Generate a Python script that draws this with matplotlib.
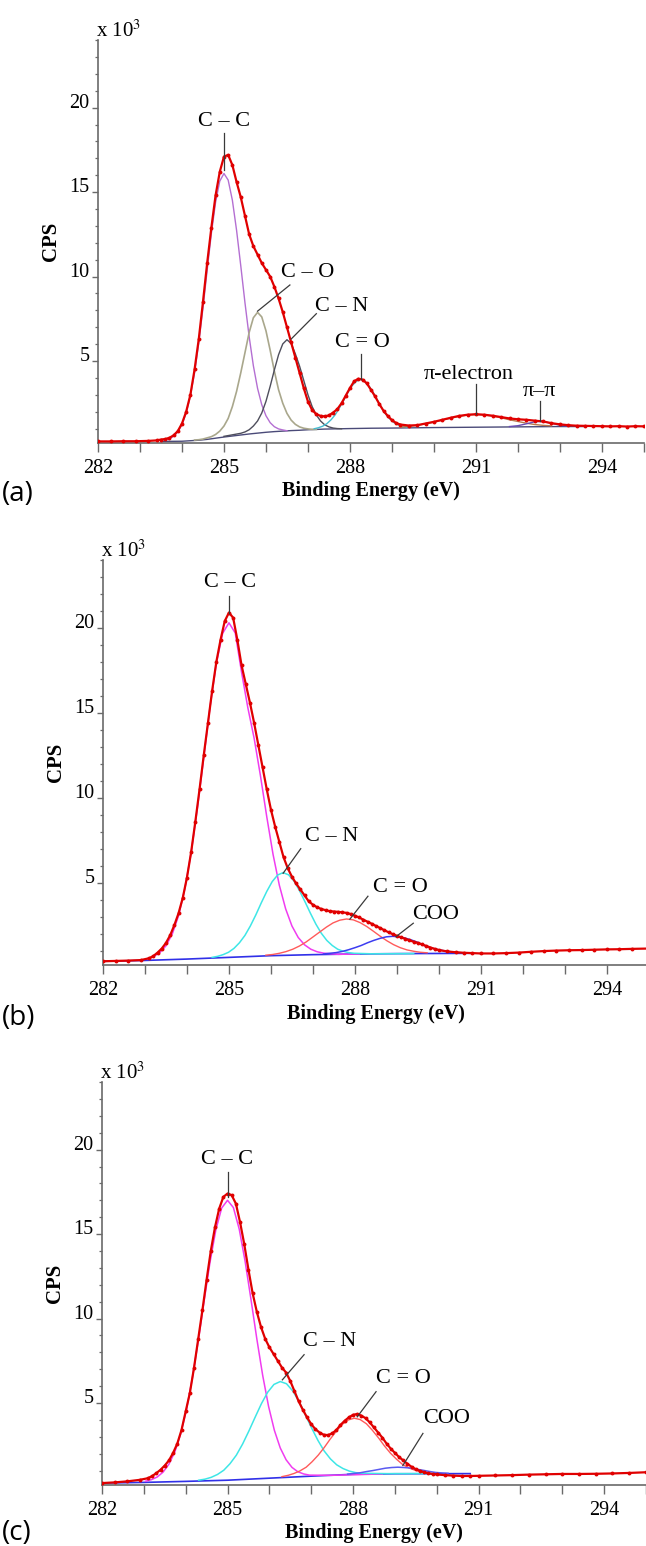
import matplotlib
matplotlib.use('Agg')
import matplotlib.pyplot as plt
from matplotlib.ticker import MultipleLocator, FixedLocator

plt.rcParams['font.family'] = ['Liberation Serif', 'DejaVu Serif']
plt.rcParams['mathtext.fontset'] = 'stix'

# ---------------- panel (a) : values in 10^3 CPS ----------------
a_E = [282.0, 282.3, 282.6, 282.9, 283.2, 283.4, 283.5,
       283.6, 283.7, 283.8, 283.9, 284.0, 284.1, 284.2, 284.3, 284.4, 284.5,
       284.6, 284.7, 284.8, 284.9, 285.0, 285.1, 285.2, 285.3, 285.4, 285.5,
       285.6, 285.7, 285.8, 285.9, 286.0, 286.1, 286.2, 286.3, 286.4, 286.5,
       286.6, 286.7, 286.8, 286.9, 287.0, 287.1, 287.2, 287.3, 287.4, 287.5,
       287.6, 287.7, 287.8, 287.9, 288.0, 288.1, 288.2, 288.3, 288.4, 288.5,
       288.6, 288.7, 288.8, 288.9, 289.0, 289.1, 289.2,
       289.4, 289.6, 289.8, 290.0, 290.2, 290.4, 290.6, 290.8, 291.0, 291.2,
       291.4, 291.6, 291.8, 292.0, 292.2, 292.4, 292.6, 292.8, 293.0, 293.2,
       293.4, 293.6, 293.8, 294.0, 294.2, 294.4, 294.6, 294.8, 295.0]
a_cps = [0.24, 0.24, 0.25, 0.25, 0.27, 0.3, 0.35,
         0.38, 0.45, 0.6, 0.85, 1.3, 2.0, 3.0, 4.5, 6.3, 8.5,
         10.8, 12.9, 14.8, 16.2, 17.1, 17.2, 16.6, 15.6, 14.7, 13.6,
         12.5, 11.8, 11.3, 10.8, 10.4, 10.0, 9.4, 8.7, 7.9, 7.0,
         6.1, 5.2, 4.3, 3.4, 2.6, 2.1, 1.85, 1.75, 1.72, 1.78,
         1.95, 2.15, 2.5, 2.95, 3.4, 3.8, 3.95, 3.9, 3.68, 3.3,
         2.9, 2.45, 2.05, 1.75, 1.5, 1.33, 1.24,
         1.18, 1.2, 1.3, 1.4, 1.52, 1.64, 1.75, 1.82, 1.85, 1.82,
         1.76, 1.68, 1.6, 1.55, 1.52, 1.47, 1.42, 1.32, 1.25, 1.2,
         1.17, 1.16, 1.15, 1.14, 1.13, 1.14, 1.12, 1.14, 1.13]

a_cc_E = [283.6, 283.7, 283.8, 283.9, 284.0, 284.1, 284.2, 284.3, 284.4, 284.5,
          284.6, 284.7, 284.8, 284.9, 285.0, 285.1, 285.2, 285.3, 285.4, 285.5,
          285.6, 285.7, 285.8, 285.9, 286.0, 286.1, 286.2, 286.3, 286.4, 286.5]
a_cc = [0.32, 0.39, 0.54, 0.8, 1.23, 1.92, 2.93, 4.31, 6.07, 8.13,
        10.38, 12.55, 14.39, 15.65, 16.1, 15.71, 14.52, 12.74, 10.64, 8.45,
        6.44, 4.72, 3.38, 2.41, 1.76, 1.35, 1.11, 0.98, 0.92, 0.87]

a_co_E = [284.3, 284.4, 284.5, 284.6, 284.7, 284.8, 284.9, 285.0, 285.1, 285.2,
          285.3, 285.4, 285.5, 285.6, 285.7, 285.8, 285.9, 286.0, 286.1, 286.2,
          286.3, 286.4, 286.5, 286.6, 286.7, 286.8, 286.9, 287.0, 287.1, 287.2]
a_co = [0.32, 0.34, 0.38, 0.45, 0.52, 0.65, 0.85, 1.15, 1.6, 2.3,
        3.2, 4.3, 5.49, 6.69, 7.56, 7.88, 7.61, 6.79, 5.64, 4.4,
        3.3, 2.5, 1.9, 1.5, 1.25, 1.1, 1.02, 0.98, 0.95, 0.95]

a_cn_E = [285.0, 285.2, 285.4, 285.5, 285.6, 285.7, 285.8, 285.9, 286.0, 286.1,
          286.2, 286.3, 286.4, 286.5, 286.6, 286.7, 286.8, 286.9, 287.0, 287.1,
          287.2, 287.3, 287.4, 287.5, 287.6, 287.7, 287.8]
a_cn = [0.54, 0.63, 0.72, 0.8, 0.93, 1.15, 1.45, 1.92, 2.61, 3.5,
        4.47, 5.37, 6.01, 6.26, 6.04, 5.42, 4.7, 3.85, 3.0, 2.3,
        1.8, 1.45, 1.22, 1.1, 1.03, 1.0, 0.99]

a_cdo_E = [287.15, 287.25, 287.35, 287.45, 287.55, 287.65, 287.75, 287.85,
           287.95, 288.05, 288.15, 288.25, 288.35, 288.45, 288.55, 288.65,
           288.75, 288.85, 288.95, 289.05, 289.15, 289.25, 289.35]
a_cdo = [0.99, 1.05, 1.14, 1.29, 1.52, 1.82, 2.22, 2.67,
         3.13, 3.53, 3.8, 3.91, 3.81, 3.54, 3.15, 2.7,
         2.25, 1.86, 1.57, 1.35, 1.21, 1.14, 1.09]

a_pie_E = [289.2, 289.4, 289.6, 289.8, 290.0, 290.2, 290.4, 290.6, 290.8, 291.0,
           291.2, 291.4, 291.6, 291.8, 292.0, 292.2, 292.4, 292.6, 292.8]
a_pie = [1.09, 1.13, 1.19, 1.28, 1.38, 1.5, 1.62, 1.72, 1.8, 1.83,
         1.8, 1.74, 1.64, 1.52, 1.42, 1.32, 1.24, 1.19, 1.16]

a_pipi_E = [291.8, 292.0, 292.2, 292.4, 292.5, 292.6, 292.8, 293.0, 293.2]
a_pipi = [1.12, 1.17, 1.28, 1.4, 1.42, 1.42, 1.31, 1.2, 1.14]

a_bg_E = [283.5, 284.0, 284.2, 284.4, 284.6, 284.8, 285.0, 285.2, 285.4, 285.6,
          285.8, 286.0, 286.2, 286.4, 286.6, 286.8, 287.0, 287.2, 287.4, 287.6,
          287.8, 288.0, 288.5, 289.0, 290.0, 291.0, 292.0, 293.0, 293.6]
a_bg = [0.24, 0.25, 0.28, 0.31, 0.36, 0.43, 0.5, 0.56, 0.62, 0.68,
        0.73, 0.78, 0.82, 0.85, 0.88, 0.9, 0.93, 0.95, 0.97, 0.98,
        0.99, 1.0, 1.02, 1.03, 1.06, 1.08, 1.1, 1.12, 1.12]

# ---------------- panel (b) ----------------
b_E = [282.0, 282.3, 282.6, 282.9, 283.1, 283.2, 283.3, 283.4, 283.5, 283.6,
       283.7, 283.8, 283.9, 284.0, 284.1, 284.2, 284.3, 284.4, 284.5, 284.6,
       284.7, 284.8, 284.9, 285.0, 285.1, 285.2, 285.3, 285.4, 285.5, 285.6,
       285.7, 285.8, 285.9, 286.0, 286.1, 286.2, 286.3, 286.4, 286.5, 286.6,
       286.7, 286.8, 286.9, 287.0, 287.1, 287.2, 287.3, 287.4, 287.5, 287.6,
       287.7, 287.8, 287.9, 288.0, 288.1, 288.2, 288.3, 288.4, 288.5, 288.6,
       288.7, 288.8, 288.9, 289.0, 289.1, 289.2, 289.3, 289.4, 289.5, 289.6,
       289.7, 289.8, 289.9, 290.0, 290.2, 290.4, 290.6, 290.8, 291.0, 291.3,
       291.6, 291.9, 292.2, 292.5, 292.8, 293.1, 293.4, 293.7, 294.0, 294.3,
       294.6, 295.0]
b_cps = [0.37, 0.39, 0.41, 0.44, 0.55, 0.68, 0.88, 1.12, 1.45, 1.9,
         2.5, 3.2, 4.1, 5.3, 6.8, 8.6, 10.5, 12.5, 14.4, 16.3,
         18.0, 19.3, 20.4, 20.9, 20.6, 19.3, 17.8, 16.7, 15.6, 14.4,
         13.1, 11.8, 10.5, 9.3, 8.3, 7.4, 6.5, 5.85, 5.35, 4.95,
         4.6, 4.25, 3.9, 3.7, 3.55, 3.45, 3.38, 3.32, 3.3, 3.28,
         3.25, 3.22, 3.15, 3.05, 2.95, 2.82, 2.7, 2.58, 2.45, 2.33,
         2.2, 2.08, 1.97, 1.87, 1.78, 1.7, 1.6, 1.52, 1.45, 1.36,
         1.27, 1.18, 1.1, 1.03, 0.95, 0.9, 0.87, 0.85, 0.83, 0.83,
         0.85, 0.88, 0.93, 0.97, 1.0, 1.02, 1.03, 1.05, 1.07, 1.08,
         1.1, 1.12]

b_cc_E = [283.05, 283.2, 283.35, 283.5, 283.65, 283.8, 283.95, 284.1, 284.25, 284.4,
          284.55, 284.7, 284.85, 285.0, 285.15, 285.3, 285.45, 285.6, 285.75, 285.9,
          286.05, 286.2, 286.35, 286.5, 286.65, 286.8, 286.95, 287.1, 287.25,
          287.6, 288.1]
b_cc = [0.51, 0.64, 0.87, 1.28, 1.97, 3.05, 4.64, 6.77, 9.41, 12.36,
        15.35, 17.91, 19.68, 20.3, 19.7, 17.4, 15.3, 13.5, 11.3, 8.89,
        6.67, 4.85, 3.46, 2.45, 1.77, 1.34, 1.08, 0.93, 0.85,
        0.78, 0.8]

b_cn_E = [284.6, 284.73, 284.86, 284.99, 285.12, 285.25, 285.38, 285.51, 285.64, 285.77,
          285.9, 286.03, 286.16, 286.29, 286.42, 286.55, 286.68, 286.81, 286.94, 287.07,
          287.2, 287.33, 287.46, 287.59, 287.72, 287.85, 287.98, 288.4, 289.4]
b_cn = [0.6, 0.66, 0.76, 0.9, 1.13, 1.46, 1.89, 2.45, 3.1, 3.81,
        4.48, 5.06, 5.45, 5.59, 5.46, 5.09, 4.53, 3.88, 3.2, 2.56,
        2.02, 1.6, 1.3, 1.08, 0.96, 0.88, 0.84, 0.81, 0.82]

b_cdo_E = [285.88, 286.04, 286.2, 286.36, 286.52, 286.68, 286.84, 287.0, 287.16, 287.32,
           287.48, 287.64, 287.8, 287.96, 288.12, 288.28, 288.44, 288.6, 288.76, 288.92,
           289.08, 289.24, 289.4, 289.56, 289.72]
b_cdo = [0.73, 0.77, 0.84, 0.94, 1.08, 1.27, 1.51, 1.8, 2.09, 2.38,
         2.63, 2.79, 2.86, 2.81, 2.65, 2.42, 2.14, 1.85, 1.58, 1.35,
         1.17, 1.04, 0.96, 0.9, 0.87]

b_coo_E = [287.25, 287.4, 287.55, 287.7, 287.85, 288.0, 288.15, 288.3, 288.45, 288.6,
           288.75, 288.9, 289.05, 289.2, 289.35, 289.5, 289.65, 289.8, 289.95, 290.1,
           290.25, 290.4, 290.55]
b_coo = [0.8, 0.84, 0.88, 0.95, 1.05, 1.17, 1.3, 1.46, 1.6, 1.72,
         1.81, 1.84, 1.81, 1.73, 1.62, 1.48, 1.3, 1.17, 1.07, 1.0,
         0.94, 0.9, 0.87]

b_bg_E = [282.0, 283.0, 284.0, 285.0, 286.0, 287.0, 288.0, 289.0, 290.0, 290.8]
b_bg = [0.37, 0.42, 0.5, 0.6, 0.7, 0.76, 0.8, 0.82, 0.83, 0.84]

# ---------------- panel (c) ----------------
c_E = [282.0, 282.3, 282.6, 282.9, 283.1, 283.2, 283.3, 283.4, 283.5, 283.6,
       283.7, 283.8, 283.9, 284.0, 284.1, 284.2, 284.3, 284.4, 284.5, 284.6,
       284.7, 284.8, 284.9, 285.0, 285.1, 285.2, 285.3, 285.4, 285.5, 285.6,
       285.7, 285.8, 285.9, 286.0, 286.1, 286.2, 286.3, 286.4, 286.5, 286.6,
       286.7, 286.8, 286.9, 287.0, 287.1, 287.2, 287.3, 287.4, 287.5, 287.6,
       287.7, 287.8, 287.9, 288.0, 288.1, 288.2, 288.3, 288.4, 288.5, 288.6,
       288.7, 288.8, 288.9, 289.0, 289.1, 289.2, 289.3, 289.4, 289.5, 289.6,
       289.7, 289.8, 289.9, 290.0, 290.2, 290.4, 290.6, 290.8, 291.0, 291.4,
       291.8, 292.2, 292.6, 293.0, 293.4, 293.8, 294.2, 294.6, 295.0]
c_cps = [0.26, 0.3, 0.36, 0.45, 0.55, 0.68, 0.85, 1.05, 1.3, 1.6,
         2.05, 2.6, 3.4, 4.5, 5.6, 7.1, 8.8, 10.5, 12.3, 14.0,
         15.4, 16.5, 17.2, 17.4, 17.3, 16.8, 15.7, 14.4, 12.9, 11.5,
         10.4, 9.5, 8.8, 8.3, 7.9, 7.5, 7.1, 6.8, 6.3, 5.7,
         5.1, 4.6, 4.15, 3.75, 3.45, 3.25, 3.12, 3.1, 3.2, 3.4,
         3.7, 3.95, 4.15, 4.3, 4.35, 4.25, 4.1, 3.85, 3.55, 3.25,
         2.95, 2.6, 2.3, 2.05, 1.8, 1.6, 1.4, 1.22, 1.08, 0.98,
         0.9, 0.84, 0.8, 0.77, 0.73, 0.7, 0.68, 0.68, 0.69, 0.71,
         0.73, 0.76, 0.78, 0.8, 0.8, 0.81, 0.83, 0.86, 0.9]

c_cc_E = [283.04, 283.18, 283.32, 283.46, 283.6, 283.74, 283.88, 284.02, 284.16, 284.3,
          284.44, 284.58, 284.72, 284.86, 285.0, 285.14, 285.28, 285.42, 285.56, 285.7,
          285.84, 285.98, 286.12, 286.26, 286.4, 286.54, 286.68, 286.82, 286.96,
          287.5, 288.7]
c_cc = [0.37, 0.46, 0.62, 0.91, 1.38, 2.1, 3.17, 4.62, 6.48, 8.67,
        11.03, 13.31, 15.24, 16.54, 17.0, 16.57, 15.29, 13.39, 11.14, 8.8,
        6.64, 4.81, 3.38, 2.34, 1.64, 1.19, 0.93, 0.8, 0.73,
        0.72, 0.8]

c_cn_E = [284.31, 284.46, 284.61, 284.76, 284.91, 285.06, 285.21, 285.36, 285.51, 285.66,
          285.81, 285.96, 286.11, 286.26, 286.41, 286.56, 286.71, 286.86, 287.01, 287.16,
          287.31, 287.46, 287.61, 287.76, 287.91, 288.06, 288.21, 288.8, 289.9]
c_cn = [0.43, 0.49, 0.6, 0.77, 1.02, 1.41, 1.91, 2.57, 3.34, 4.16,
        4.96, 5.64, 6.1, 6.27, 6.14, 5.71, 5.08, 4.3, 3.52, 2.79,
        2.16, 1.69, 1.34, 1.12, 0.97, 0.88, 0.84, 0.82, 0.82]

c_cdo_E = [286.3, 286.45, 286.59, 286.73, 286.88, 287.02, 287.17, 287.31, 287.45, 287.6,
           287.74, 287.89, 288.03, 288.17, 288.32, 288.46, 288.61, 288.75, 288.89, 289.04,
           289.18, 289.33, 289.47, 289.61, 289.76]
c_cdo = [0.64, 0.72, 0.83, 0.98, 1.2, 1.52, 1.92, 2.36, 2.85, 3.33,
         3.73, 4.0, 4.1, 4.02, 3.77, 3.39, 2.93, 2.46, 2.04, 1.67,
         1.37, 1.16, 1.03, 0.94, 0.88]

c_coo_E = [287.87, 288.02, 288.17, 288.32, 288.47, 288.62, 288.77, 288.92, 289.07, 289.22,
           289.37, 289.52, 289.67, 289.82, 289.97, 290.12, 290.27]
c_coo = [0.79, 0.83, 0.87, 0.94, 1.0, 1.07, 1.14, 1.18, 1.2, 1.18,
         1.15, 1.08, 1.02, 0.95, 0.89, 0.86, 0.84]

c_bg_E = [282.0, 283.0, 284.0, 285.0, 286.0, 287.0, 288.0, 289.0, 290.8]
c_bg = [0.26, 0.3, 0.36, 0.43, 0.55, 0.67, 0.78, 0.81, 0.82]

x_ticks = [282, 285, 288, 291, 294]
y_ticks = [5, 10, 15, 20]

RED = '#e00000'
AX_COLOR = '#6a6a6a'


def style_axis(ax):
    ax.set_xlim(282, 295)
    ax.set_ylim(0.15, 24)
    for s in ['top', 'right']:
        ax.spines[s].set_visible(False)
    for s in ['left', 'bottom']:
        ax.spines[s].set_color(AX_COLOR)
        ax.spines[s].set_linewidth(1.2)
    ax.xaxis.set_major_locator(FixedLocator(x_ticks))
    ax.xaxis.set_minor_locator(MultipleLocator(1))
    ax.yaxis.set_major_locator(FixedLocator(y_ticks))
    ax.yaxis.set_minor_locator(MultipleLocator(1))
    ax.tick_params(axis='x', which='both', direction='out', length=6.5,
                   width=1.0, color=AX_COLOR, pad=5, labelsize=14.5)
    ax.tick_params(axis='y', which='major', direction='out', length=4,
                   width=1.0, color=AX_COLOR, pad=2, labelsize=14.5)
    ax.tick_params(axis='y', which='minor', direction='out', length=2.5,
                   width=0.9, color=AX_COLOR)
    for lbl in ax.get_yticklabels():
        lbl.set_verticalalignment('baseline')
    ax.text(0.5, -0.12, 'Binding Energy (eV)', transform=ax.transAxes,
            ha='center', va='center', fontsize=14.5, fontweight='bold')
    ax.text(-0.086, 0.5, 'CPS', transform=ax.transAxes, rotation=90,
            ha='center', va='center', fontsize=15, fontweight='bold')
    ax.text(-0.003, 1.022, r'x 10$^3$', transform=ax.transAxes,
            ha='left', va='center', fontsize=15)


def draw_data(ax, E, y):
    ax.plot(E, y, color=RED, lw=1.6, zorder=5)
    ax.plot(E, y, 'o', color=RED, ms=2.8, mec='none', zorder=6)


def label(ax, text, pos, start, end):
    ax.plot([start[0], end[0]], [start[1], end[1]], color='#3a3a3a', lw=0.9, zorder=7)
    ax.text(pos[0], pos[1], text, ha='center', va='center', fontsize=16, zorder=8)


fig = plt.figure(figsize=(6.46, 15.46), dpi=100)

# (a)
ax = fig.add_axes([0.1517, 0.7135, 0.845, 0.2606])
style_axis(ax)
ax.plot(a_bg_E, a_bg, color='#4a4a78', lw=1.0, zorder=2)
ax.plot(a_cc_E, a_cc, color='#b46fd2', lw=1.0, zorder=3)
ax.plot(a_co_E, a_co, color='#a9a78c', lw=1.2, zorder=3)
ax.plot(a_cn_E, a_cn, color='#4e4e5c', lw=1.0, zorder=3)
ax.plot(a_cdo_E, a_cdo, color='#45bcd0', lw=1.0, zorder=3)
ax.plot(a_pie_E, a_pie, color='#b8784c', lw=1.0, zorder=3)
ax.plot(a_pipi_E, a_pipi, color='#6a4cb4', lw=1.0, zorder=3)
draw_data(ax, a_E, a_cps)
label(ax, 'C – C', (285.0, 19.2), (285.0, 18.5), (285.0, 16.3))
label(ax, 'C – O', (287.0, 10.25), (286.57, 9.5), (285.8, 7.95))
label(ax, 'C – N', (287.81, 8.2), (287.2, 7.8), (286.6, 6.3))
label(ax, 'C = O', (288.29, 6.1), (288.26, 5.4), (288.26, 3.95))
label(ax, 'π-electron', (290.83, 4.23), (291.0, 3.64), (291.0, 1.87))
label(ax, 'π–π', (292.52, 3.2), (292.52, 2.64), (292.52, 1.42))

# (b)
ax = fig.add_axes([0.1594, 0.3758, 0.845, 0.262])
style_axis(ax)
ax.plot(b_bg_E, b_bg, color='#3030e8', lw=1.2, zorder=2)
ax.plot(b_cc_E, b_cc, color='#f03cf0', lw=1.1, zorder=3)
ax.plot(b_cn_E, b_cn, color='#3ee6e6', lw=1.1, zorder=3)
ax.plot(b_cdo_E, b_cdo, color='#ff5a5a', lw=1.0, zorder=3)
ax.plot(b_coo_E, b_coo, color='#3c3cf0', lw=1.1, zorder=3)
draw_data(ax, b_E, b_cps)
label(ax, 'C – C', (285.02, 22.7), (285.0, 21.9), (285.0, 20.9))
label(ax, 'C – N', (287.44, 7.7), (286.71, 7.0), (286.29, 5.55))
label(ax, 'C = O', (289.09, 4.7), (288.31, 4.2), (287.88, 2.85))
label(ax, 'COO', (289.92, 3.1), (289.39, 2.61), (288.98, 1.82))

# (c)
ax = fig.add_axes([0.1579, 0.0395, 0.842, 0.2606])
style_axis(ax)
ax.plot(c_bg_E, c_bg, color='#3030e8', lw=1.2, zorder=2)
ax.plot(c_cc_E, c_cc, color='#f03cf0', lw=1.1, zorder=3)
ax.plot(c_cn_E, c_cn, color='#3ee6e6', lw=1.1, zorder=3)
ax.plot(c_cdo_E, c_cdo, color='#ff5a5a', lw=1.0, zorder=3)
ax.plot(c_coo_E, c_coo, color='#5a5af0', lw=1.1, zorder=3)
draw_data(ax, c_E, c_cps)
label(ax, 'C – C', (284.99, 19.4), (285.0, 18.7), (285.0, 17.2))
label(ax, 'C – N', (287.43, 8.65), (286.83, 7.86), (286.31, 6.37))
label(ax, 'C = O', (289.2, 6.43), (288.55, 5.67), (288.1, 4.18))
label(ax, 'COO', (290.23, 4.1), (289.67, 3.2), (289.19, 1.3))

for txt, yf in [('(a)', 0.6805), ('(b)', 0.3415), ('(c)', 0.0085)]:
    fig.text(0.003, yf, txt, ha='left', va='center', fontsize=20,
             family=['Open Sans', 'DejaVu Sans'])

fig.savefig('out.png', dpi=100)
